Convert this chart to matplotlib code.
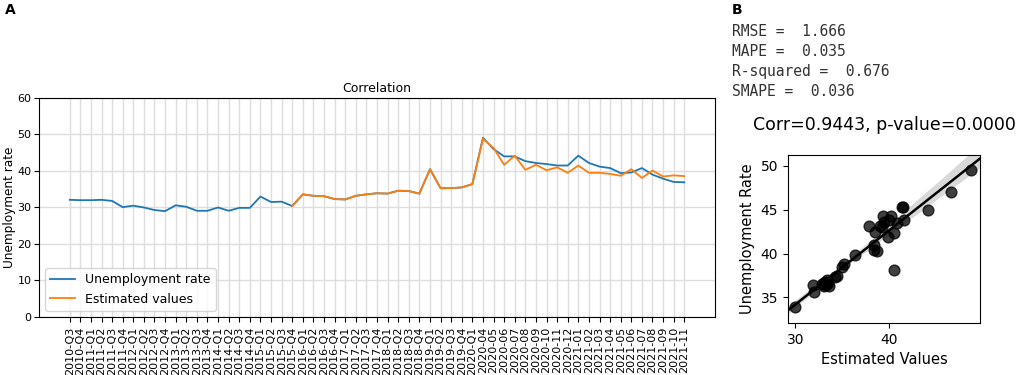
import numpy as np
import matplotlib
matplotlib.use("Agg")
import matplotlib.pyplot as plt
import seaborn as sns

# time axis labels (quarters, then months from 2020-04)
periods = ["2010-Q3", "2010-Q4",
           "2011-Q1", "2011-Q2", "2011-Q3", "2011-Q4",
           "2012-Q1", "2012-Q2", "2012-Q3", "2012-Q4",
           "2013-Q1", "2013-Q2", "2013-Q3", "2013-Q4",
           "2014-Q1", "2014-Q2", "2014-Q3", "2014-Q4",
           "2015-Q1", "2015-Q2", "2015-Q3", "2015-Q4",
           "2016-Q1", "2016-Q2", "2016-Q3", "2016-Q4",
           "2017-Q1", "2017-Q2", "2017-Q3", "2017-Q4",
           "2018-Q1", "2018-Q2", "2018-Q3", "2018-Q4",
           "2019-Q1", "2019-Q2", "2019-Q3", "2019-Q4",
           "2020-Q1", "2020-04", "2020-05", "2020-06", "2020-07", "2020-08",
           "2020-09", "2020-10", "2020-11", "2020-12",
           "2021-01", "2021-02", "2021-03", "2021-04", "2021-05", "2021-06",
           "2021-07", "2021-08", "2021-09", "2021-10", "2021-11"]

unemployment = [32.1, 32.0, 32.0, 32.1, 31.8, 30.1, 30.5, 30.0, 29.3, 29.0,
                30.6, 30.2, 29.1, 29.1, 30.0, 29.1, 29.9, 29.9, 33.0, 31.5,
                31.6, 30.4, 33.6, 33.2, 33.1, 32.3, 32.2, 33.2, 33.6, 33.9,
                33.8, 34.6, 34.5, 33.8, 40.5, 35.3, 35.3, 35.5, 36.4, 49.1,
                46.0, 44.0, 44.0, 42.7, 42.2, 41.9, 41.5, 41.5, 44.2, 42.2,
                41.2, 40.8, 39.4, 39.6, 40.8, 39.0, 37.9, 37.0, 36.9]

# estimated values start at 2015-Q4
est_start = "2015-Q4"
estimated = [30.4, 33.6, 33.2, 33.1, 32.3, 32.2, 33.2, 33.6, 33.9,
             33.8, 34.6, 34.5, 33.8, 40.5, 35.3, 35.3, 35.5, 36.4, 48.8,
             46.3, 41.7, 44.2, 40.3, 41.7, 40.2, 41.0, 39.5, 41.5, 39.5,
             39.5, 39.2, 38.7, 40.5, 38.1, 40.1, 38.5, 38.8, 38.6]

# scatter: estimated vs actual unemployment rate
sc_est = [30.0, 31.9, 32.0, 32.8, 33.0, 33.2, 33.3, 33.5, 33.6, 33.4, 33.1,
          34.2, 34.4, 35.0, 35.2, 36.4, 37.9, 38.4, 38.4, 38.7, 38.5, 39.0,
          39.4, 39.5, 39.3, 39.9, 40.2, 40.0, 40.6, 40.5, 40.9, 41.4, 41.5,
          41.6, 44.2, 46.7, 48.8]
sc_act = [33.9, 36.4, 35.6, 36.5, 36.6, 36.8, 36.4, 36.7, 36.3, 37.0, 36.3,
          37.3, 37.4, 38.5, 38.8, 39.8, 43.1, 41.0, 40.4, 40.3, 42.4, 43.1,
          44.3, 43.6, 43.0, 41.9, 44.3, 43.8, 42.3, 38.1, 43.5, 45.3, 45.3,
          43.8, 45.0, 47.0, 49.5]

metrics = ["RMSE =  1.666", "MAPE =  0.035", "R-squared =  0.676", "SMAPE =  0.036"]

fig = plt.figure(figsize=(10.21, 3.75), dpi=100)

# ---- panel A
ax = fig.add_axes([0.0382, 0.1547, 0.6621, 0.584])
x = np.arange(len(periods))
i0 = periods.index(est_start)
ax.plot(x, unemployment, color="#1f77b4", lw=1.3, label="Unemployment rate")
ax.plot(x[i0:i0 + len(estimated)], estimated, color="#ff7f0e", lw=1.3, label="Estimated values")
ax.set_xticks(x)
ax.set_xticklabels(periods, rotation=90, fontsize=8)
ax.set_ylim(0, 60)
ax.set_yticks([0, 10, 20, 30, 40, 50, 60])
ax.tick_params(axis="y", labelsize=8, pad=2)
ax.set_ylabel("Unemployment rate", fontsize=8.7, labelpad=1)
ax.set_title("Correlation", fontsize=9, pad=4)
ax.grid(True, color="#dddddd", lw=1)
ax.set_axisbelow(True)
ax.legend(loc="lower left", fontsize=9)

# ---- panel B
bx = fig.add_axes([0.7718, 0.1387, 0.188, 0.448])
sns.regplot(x=sc_est, y=sc_act, ax=bx, color="black", truncate=False, seed=0,
            scatter_kws={"s": 60, "alpha": 0.75, "edgecolor": "black"},
            line_kws={"lw": 1.8})
bx.set_xlim(29.2, 49.75)
bx.set_ylim(32.1, 51.2)
bx.set_xticks([30, 40])
bx.set_yticks([35, 40, 45, 50])
bx.tick_params(labelsize=10)
bx.set_xlabel("Estimated Values", fontsize=10.5)
bx.set_ylabel("Unemployment Rate", fontsize=10.5)
bx.set_title("Corr=0.9443, p-value=0.0000", fontsize=12.5, pad=18)

for k, line in enumerate(metrics):
    fig.text(0.717, 1 - (31 + 20.3 * k) / 375, line, family="DejaVu Sans Mono",
             fontsize=10.5, color="#333333", va="center", ha="left")

fig.text(0.005, 0.973, "A", fontsize=10, fontweight="bold", va="center")
fig.text(0.717, 0.973, "B", fontsize=10, fontweight="bold", va="center")

fig.savefig("out.png", dpi=100)
